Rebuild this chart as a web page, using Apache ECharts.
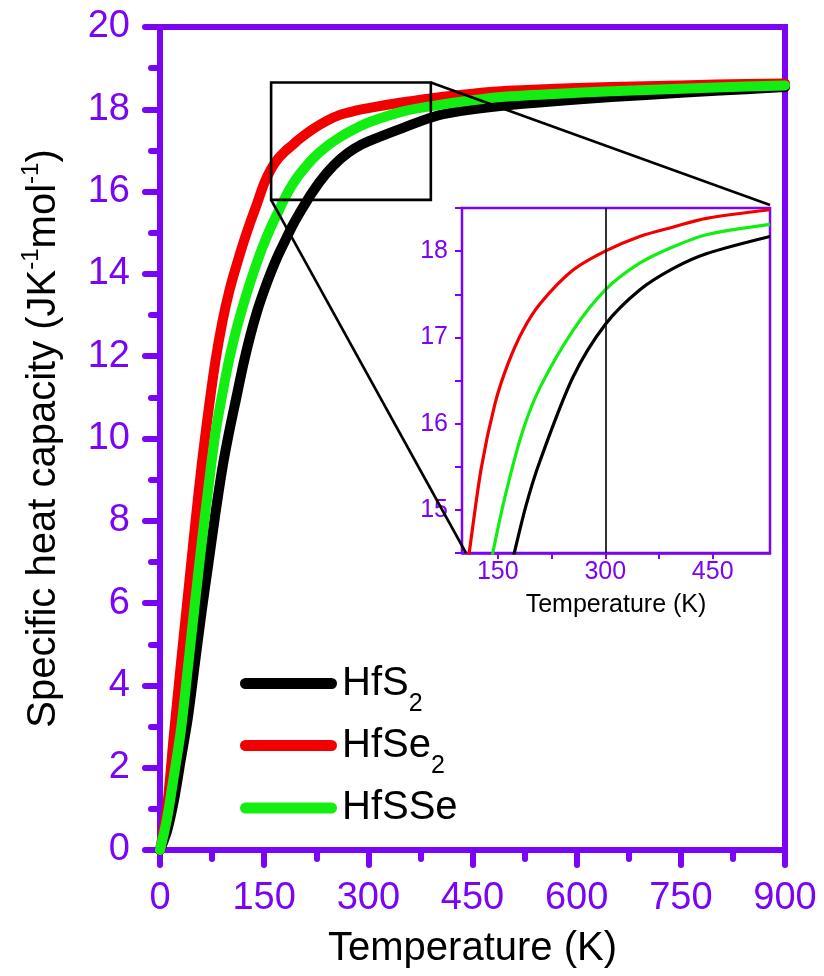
<!DOCTYPE html>
<html>
<head>
<meta charset="utf-8">
<script src="https://cdn.jsdelivr.net/npm/echarts@6/dist/echarts.min.js"></script>
<style>
  html, body { margin: 0; padding: 0; background: #fff; }
  #chart { width: 824px; height: 976px; }
</style>
</head>
<body>
<div id="chart"></div>
<script>
// Specific heat capacity of HfS2, HfSe2 and HfSSe versus temperature
const temperature = [0, 10, 20, 30, 40, 50, 60, 70, 80, 90, 100, 110, 120, 130, 140, 150, 160, 170, 180, 190, 200, 220, 240, 260, 280, 300, 350, 400, 450, 500, 600, 700, 800, 900];
const cvHfS2  = [0, 0.45, 1.2, 2.2, 3.2, 4.5, 5.8, 7.0, 8.2, 9.3, 10.2, 11.0, 11.8, 12.5, 13.1, 13.6, 14.05, 14.45, 14.8, 15.15, 15.45, 16.0, 16.45, 16.8, 17.05, 17.22, 17.55, 17.85, 18.0, 18.1, 18.24, 18.35, 18.45, 18.54];
const cvHfSe2 = [0, 1.0, 2.8, 4.5, 6.15, 7.8, 9.35, 10.7, 11.9, 12.85, 13.6, 14.2, 14.75, 15.25, 15.72, 16.2, 16.55, 16.8, 16.98, 17.12, 17.27, 17.52, 17.72, 17.87, 17.96, 18.03, 18.17, 18.29, 18.38, 18.45, 18.52, 18.56, 18.6, 18.63];
const cvHfSSe = [0, 0.75, 1.8, 2.9, 4.4, 5.95, 7.45, 8.85, 10.15, 11.1, 11.95, 12.65, 13.25, 13.8, 14.3, 14.75, 15.15, 15.5, 15.85, 16.15, 16.4, 16.8, 17.1, 17.33, 17.52, 17.68, 17.95, 18.1, 18.22, 18.31, 18.4, 18.47, 18.53, 18.58];

// Enlarged view, [temperature, Cv] pairs
const insetHfS2  = [[165, 14.2], [173, 14.5], [190, 15.07], [209, 15.57], [255, 16.54], [300, 17.15], [348, 17.55], [395, 17.8], [441, 17.97], [530, 18.17]];
const insetHfSe2 = [[100, 13.9], [110, 14.5], [127, 15.49], [146, 16.23], [164, 16.69], [185, 17.08], [209, 17.39], [255, 17.78], [300, 18.0], [348, 18.17], [395, 18.28], [441, 18.38], [530, 18.48]];
const insetHfSSe = [[135, 14.1], [143, 14.5], [162, 15.22], [185, 15.92], [209, 16.42], [255, 17.08], [300, 17.55], [348, 17.86], [395, 18.05], [441, 18.19], [530, 18.31]];
const insetMarkT = [300];

// Main axis ranges and ticks
const mainX = { min: 0, max: 900, step: 150 };
const mainY = { min: 0, max: 20, step: 2 };
// Enlarged view ranges and ticks
const insetX = { min: 100, max: 530 };
const insetXTicks = [150, 225, 300, 375, 450];
const insetXLabels = [150, 300, 450];
const insetY = { min: 14.5, max: 18.5, step: 0.5 };
// Region of the main plot shown enlarged: [T range], [Cv range]
const zoomBoxT = [160, 390];
const zoomBoxCv = [15.8, 18.65];

const names = ['HfS2', 'HfSe2', 'HfSSe'];
const legendText = { 'HfS2': 'HfS{sub|2}', 'HfSe2': 'HfSe{sub|2}', 'HfSSe': 'HfSSe' };
const colors = { 'HfS2': '#000000', 'HfSe2': '#F20000', 'HfSSe': '#12EE12' };

const PURPLE = '#7A05F5';
const FONT = '"Liberation Sans", Arial, sans-serif';

const toPairs = (xs, ys) => xs.map((x, i) => [x, ys[i]]);
const mainData = { 'HfS2': toPairs(temperature, cvHfS2), 'HfSe2': toPairs(temperature, cvHfSe2), 'HfSSe': toPairs(temperature, cvHfSSe) };
const insetData = { 'HfS2': insetHfS2, 'HfSe2': insetHfSe2, 'HfSSe': insetHfSSe };

const capsule = 'path://M5.5,0H91.5A5.5,5.5,0,0,1,91.5,11H5.5A5.5,5.5,0,0,1,5.5,0Z';
const legendTops = [650, 712, 788];

const chart = echarts.init(document.getElementById('chart'), null, { renderer: 'canvas' });

const series = [];
names.forEach(n => {
  series.push({
    name: n, type: 'line', xAxisIndex: 0, yAxisIndex: 0,
    data: mainData[n], showSymbol: false, symbol: 'none',
    smooth: 0.3,
    color: colors[n],
    lineStyle: { width: 10, color: colors[n], cap: 'round', join: 'round' },
    z: 3
  });
});
names.forEach(n => {
  const s = {
    name: n, type: 'line', xAxisIndex: 1, yAxisIndex: 1,
    data: insetData[n], showSymbol: false, symbol: 'none',
    smooth: 0.3, clip: true,
    color: colors[n],
    lineStyle: { width: 3.2, color: colors[n] },
    z: 3
  };
  if (n === 'HfS2') {
    s.markLine = {
      silent: true, symbol: 'none', label: { show: false },
      lineStyle: { color: '#000', width: 1.6, type: 'solid' },
      data: insetMarkT.map(t => ({ xAxis: t }))
    };
  }
  series.push(s);
});

const option = {
  animation: false,
  backgroundColor: '#ffffff',
  textStyle: { fontFamily: FONT },
  grid: [
    { left: 160, top: 27, width: 625, height: 823, show: true, borderColor: PURPLE, borderWidth: 6, backgroundColor: 'transparent', containLabel: false },
    { left: 462, top: 208, width: 308, height: 345, show: true, borderColor: PURPLE, borderWidth: 2.5, backgroundColor: '#fff', containLabel: false, z: 1 }
  ],
  legend: names.map((n, i) => ({
    data: [n], left: 240, top: legendTops[i], padding: 0, orient: 'vertical',
    icon: capsule, itemWidth: 97, itemHeight: 11,
    itemStyle: { borderWidth: 0 },
    formatter: name => legendText[name],
    textStyle: {
      fontFamily: FONT, fontSize: 40, color: '#000', lineHeight: 40,
      rich: { sub: { fontFamily: FONT, fontSize: 25, color: '#000', lineHeight: 25, padding: [42, 0, 0, 0] } }
    }
  })),
  xAxis: [
    {
      gridIndex: 0, type: 'value', min: mainX.min, max: mainX.max, interval: mainX.step,
      name: 'Temperature (K)', nameLocation: 'middle', nameGap: 79,
      nameTextStyle: { fontFamily: FONT, fontSize: 40, color: '#000' },
      axisLine: { lineStyle: { color: PURPLE, width: 6 } },
      axisTick: { show: true, inside: false, length: 15, lineStyle: { color: PURPLE, width: 6, cap: 'round' } },
      minorTick: { show: true, splitNumber: 2, length: 9, lineStyle: { color: PURPLE, width: 6, cap: 'round' } },
      axisLabel: { fontFamily: FONT, fontSize: 38, color: PURPLE, margin: 30 },
      splitLine: { show: false }
    },
    {
      gridIndex: 1, type: 'value', min: insetX.min, max: insetX.max,
      name: 'Temperature (K)', nameLocation: 'middle', nameGap: 40,
      nameTextStyle: { fontFamily: FONT, fontSize: 25, color: '#000' },
      axisLine: { lineStyle: { color: PURPLE, width: 2.5 } },
      axisTick: { show: true, inside: false, length: 6, customValues: insetXTicks, lineStyle: { color: PURPLE, width: 2 } },
      axisLabel: { fontFamily: FONT, fontSize: 25, color: PURPLE, margin: 7, customValues: insetXLabels },
      splitLine: { show: false }
    }
  ],
  yAxis: [
    {
      gridIndex: 0, type: 'value', min: mainY.min, max: mainY.max, interval: mainY.step,
      name: 'Specific heat capacity (JK{sup|-1}mol{sup|-1})', nameLocation: 'middle', nameGap: 96, nameRotate: 90,
      nameTextStyle: {
        fontFamily: FONT, fontSize: 40, color: '#000', lineHeight: 40,
        rich: { sup: { fontFamily: FONT, fontSize: 24, color: '#000', lineHeight: 24, padding: [0, 0, 26, 0] } }
      },
      axisLine: { lineStyle: { color: PURPLE, width: 6 } },
      axisTick: { show: true, inside: false, length: 15, lineStyle: { color: PURPLE, width: 6, cap: 'round' } },
      minorTick: { show: true, splitNumber: 2, length: 9, lineStyle: { color: PURPLE, width: 6, cap: 'round' } },
      axisLabel: { fontFamily: FONT, fontSize: 38, color: PURPLE, margin: 30 },
      splitLine: { show: false }
    },
    {
      gridIndex: 1, type: 'value', min: insetY.min, max: insetY.max, interval: insetY.step,
      axisLine: { lineStyle: { color: PURPLE, width: 2.5 } },
      axisTick: { show: true, inside: false, length: 7, lineStyle: { color: PURPLE, width: 2 } },
      axisLabel: {
        fontFamily: FONT, fontSize: 25, color: PURPLE, margin: 14,
        formatter: v => (Math.abs(v - Math.round(v)) < 1e-9 ? String(Math.round(v)) : '')
      },
      splitLine: { show: false }
    }
  ],
  series: series
};

chart.setOption(option);

// Outline of the enlarged region and the lines joining it to the inset panel
const px = (gridIndex, pt) => chart.convertToPixel({ gridIndex: gridIndex }, pt);
const boxBL = px(0, [zoomBoxT[0], zoomBoxCv[0]]);
const boxTR = px(0, [zoomBoxT[1], zoomBoxCv[1]]);
const insetTR = px(1, [insetX.max, insetY.max]);
const insetBL = px(1, [insetX.min, insetY.min]);
const lineStyle = { stroke: '#000', lineWidth: 2.6, fill: null };

chart.setOption({
  graphic: [
    {
      type: 'rect', z: 100, silent: true,
      shape: { x: boxBL[0], y: boxTR[1], width: boxTR[0] - boxBL[0], height: boxBL[1] - boxTR[1] },
      style: { stroke: '#000', lineWidth: 2.6, fill: null }
    },
    { type: 'line', z: 100, silent: true, shape: { x1: boxTR[0], y1: boxTR[1], x2: insetTR[0], y2: insetTR[1] - 3 }, style: lineStyle },
    { type: 'line', z: 100, silent: true, shape: { x1: boxBL[0], y1: boxBL[1], x2: insetBL[0] + 4, y2: insetBL[1] }, style: lineStyle }
  ]
});
</script>
</body>
</html>
